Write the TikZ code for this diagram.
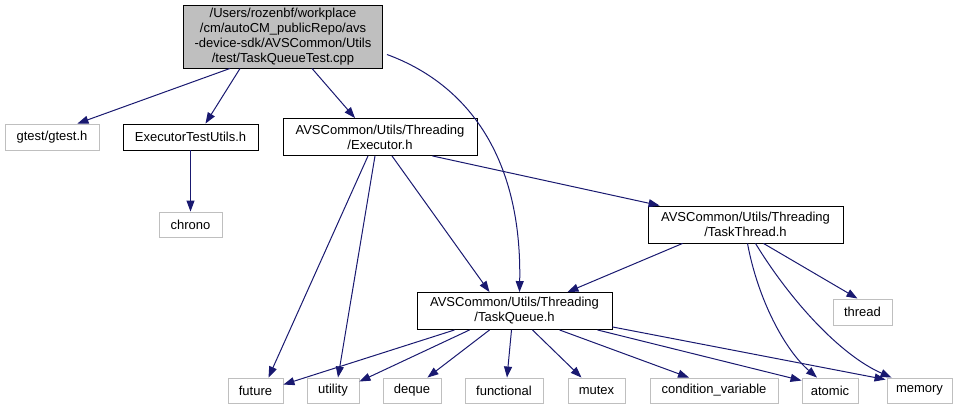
\documentclass[tikz,border=0pt]{standalone}
\usepackage{fontspec}
\setmainfont{Liberation Sans}
\usetikzlibrary{arrows.meta,calc}
\definecolor{edgeblue}{HTML}{191970}
\definecolor{sysgrey}{HTML}{BFBFBF}
\tikzset{
  filebox/.style = {draw=black, fill=white, align=center, inner sep=0pt, line width=0.9pt,
                    font=\fontsize{13}{15}\selectfont, minimum height=37pt},
  rootbox/.style = {filebox, fill=sysgrey, minimum width=199pt, minimum height=63pt},
  sysbox/.style  = {draw=sysgrey, fill=white, align=center, inner sep=0pt, line width=0.9pt,
                    font=\fontsize{13}{15}\selectfont, minimum height=25pt},
  dep/.style     = {-{Triangle[length=11pt,width=8pt]}, draw=edgeblue, fill=none, line width=1pt},
}

\begin{document}
\begin{tikzpicture}[x=1pt,y=-1pt]
    \useasboundingbox (0,0) rectangle (962,409);
    % top of the graph
    \node[rootbox] (root) at (283,36.5) {/Users/rozenbf/workplace\\/cm/autoCM\_publicRepo/avs\\-device-sdk/AVSCommon/Utils\\/test/TaskQueueTest.cpp};
    \node[sysbox,minimum width=94pt,minimum height=26pt] (gtest) at (52,137) {gtest/gtest.h};
    \node[filebox,minimum width=135pt,minimum height=26pt] (etu) at (190.5,137) {ExecutorTestUtils.h};
    \node[filebox,minimum width=194pt] (exec) at (380,137) {AVSCommon/Utils/Threading\\/Executor.h};
    \node[sysbox,minimum width=63pt] (chrono) at (190.5,224.5) {chrono};
    \node[filebox,minimum width=195pt] (tt) at (745.5,224.5) {AVSCommon/Utils/Threading\\/TaskThread.h};
    \node[sysbox,minimum width=59pt,minimum height=26pt] (thread) at (862.5,312) {thread};
    \node[filebox,minimum width=195pt] (tq) at (514.5,311) {AVSCommon/Utils/Threading\\/TaskQueue.h};
    % standard headers
    \node[sysbox,minimum width=55pt] (future) at (255.5,390.5) {future};
    \node[sysbox,minimum width=52pt] (utility) at (333,390.5) {utility};
    \node[sysbox,minimum width=58pt] (deque) at (412,390.5) {deque};
    \node[sysbox,minimum width=78pt] (functional) at (504,390.5) {functional};
    \node[sysbox,minimum width=57pt] (mutex) at (596.5,390.5) {mutex};
    \node[sysbox,minimum width=128pt] (condvar) at (714,390.5) {condition\_variable};
    \node[sysbox,minimum width=56pt] (atomic) at (830,390.5) {atomic};
    \node[sysbox,minimum width=65pt] (memory) at (919.5,390.5) {memory};

    \draw[dep] ($(root.south west)+(47,0)$) -- ($(gtest.north east)+(-22,0)$);
    \draw[dep] ($(root.south west)+(57,0)$) -- ($(etu.north)+(15,0)$);
    \draw[dep] ($(root.south)+(29,0)$) -- ($(exec.north)+(-25,0)$);
    \draw[dep] ($(root.east)+(4,18)$) .. controls (470,85) and (522,160) .. ($(tq.north)+(5,0)$);
    \draw[dep] (etu) -- (chrono);
    \draw[dep] ($(exec.south)+(-12,0)$) -- ($(future.north)+(13,0)$);
    \draw[dep] ($(exec.south)+(-5,0)$) -- ($(utility.north)+(5,0)$);
    \draw[dep] ($(exec.south)+(12,0)$) -- ($(tq.north)+(-25,0)$);
    \draw[dep] ($(exec.south east)+(-45,0)$) -- ($(tt.north west)+(12,0)$);
    \draw[dep] ($(tt.south west)+(35,0)$) -- ($(tq.north east)+(-45,0)$);
    \draw[dep] ($(tt.south)+(18,0)$) -- ($(thread.north)+(-5,0)$);
    \draw[dep] ($(tt.south)+(2,0)$) .. controls (758,300) and (785,350) .. ($(atomic.north)+(-13,0)$);
    \draw[dep] ($(tt.south)+(10,0)$) .. controls (790,300) and (840,355) .. ($(memory.north west)+(5,0)$);
    % fan-out of the task queue
    \draw[dep] ($(tq.south west)+(38,0)$) -- ($(future.north east)+(0,7)$);
    \draw[dep] ($(tq.south west)+(53,0)$) -- ($(utility.north east)+(0,4)$);
    \draw[dep] ($(tq.south west)+(73,0)$) -- ($(deque.north east)+(-14,0)$);
    \draw[dep] ($(tq.south)+(-3,0)$) -- ($(functional.north)+(3,0)$);
    \draw[dep] ($(tq.south)+(18,0)$) -- ($(mutex.north)+(-15,0)$);
    \draw[dep] ($(tq.south)+(45,0)$) -- ($(condvar.north)+(-25,0)$);
    \draw[dep] ($(tq.south east)+(-15,0)$) -- ($(atomic.north west)+(0,3)$);
    \draw[dep] ($(tq.south east)+(0,-3)$) -- ($(memory.north west)+(-1,2)$);
\end{tikzpicture}
\end{document}
